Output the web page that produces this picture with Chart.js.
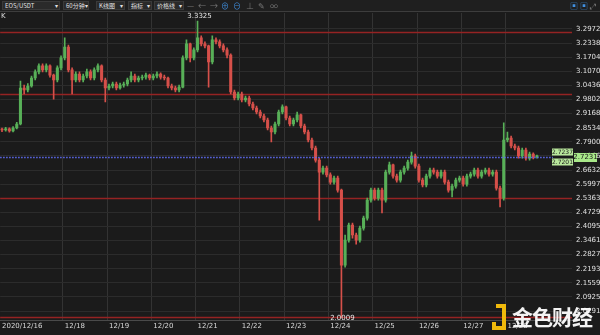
<!DOCTYPE html>
<html lang="zh">
<head>
<meta charset="UTF-8">
<title>EOS/USDT 60分钟</title>
<script src="https://cdn.jsdelivr.net/npm/chart.js@4.4.0/dist/chart.umd.min.js"></script>
<style>
    body { margin: 0; background: #1b1b1b; width: 600px; height: 335px; overflow: hidden; position: relative;
           font-family: "Noto Sans CJK SC", "Noto Sans", sans-serif; }
    #kline { position: absolute; left: 0; top: 0; }
    #bar { position: absolute; left: 0; top: 0; width: 600px; height: 11px; background: #1f1f1f; border-bottom: 1px solid #3d3d3d; }
    .dd { position: absolute; top: 1px; height: 9px; background: #2a2a2a; border: 1px solid #3a3a3a; color: #e0e0e0;
          font-size: 6px; line-height: 8px; padding: 0 1px 0 2px; box-sizing: border-box; display: flex;
          justify-content: space-between; white-space: nowrap; overflow: hidden; }
    .ic { position: absolute; top: 1px; font-size: 8px; line-height: 9px; color: #777; }
    .blue { color: #3f8fe0; }
    #k { position: absolute; left: 1px; top: 12px; color: #ddd; font-size: 7px; font-family: "DejaVu Sans", sans-serif; }
    #wm { position: absolute; left: 490px; top: 300px; width: 110px; height: 35px; }
    #wm .logo { position: absolute; left: 2px; top: 4px; width: 14px; height: 26px; }
    #wm .txt { position: absolute; left: 22px; top: 1px; color: #fff; font-size: 21px; font-weight: bold; letter-spacing: -1px; opacity: 0.95; }
</style>
</head>
<body>
<canvas id="kline" width="600" height="335"></canvas>
<div id="bar">
    <div class="dd" style="left:2px;width:58px"><span>EOS/USDT</span><span>▾</span></div>
    <div class="dd" style="left:63px;width:26px"><span>60分钟</span><span>▾</span></div>
    <div class="dd" style="left:96px;width:29px"><span>K线图</span><span>▾</span></div>
    <div class="dd" style="left:128px;width:24px"><span>指标</span><span>▾</span></div>
    <div class="dd" style="left:154px;width:30px"><span>价格线</span><span>▾</span></div>
    <span class="ic" style="left:187px">—</span>
    <span class="ic" style="left:198px">←</span>
    <span class="ic" style="left:210px">→</span>
    <span class="ic blue" style="left:221px">⊕</span>
    <span class="ic blue" style="left:233px">⊖</span>
    <span class="ic" style="left:246px">⊥</span>
    <span class="ic" style="left:258px">✎</span>
    <span class="ic" style="left:270px">∞</span>
    <span class="ic blue" style="left:570px">▣</span>
    <span class="ic blue" style="left:580px">▣</span>
    <span class="ic" style="left:590px">⤢</span>
</div>
<div id="k">K</div>
<div id="wm">
    <svg class="logo" viewBox="0 0 14 26"><path d="M0 18h4v4h6V4H4V0h10v26H0z" fill="#f0b90b"/></svg>
    <div class="txt">金色财经</div>
</div>
<script>
    // 2 hour candles, starting 2020/12/16 14:00
    var opens = [2.846,2.843,2.848,2.839,2.852,2.870,3.032,3.023,3.041,3.077,
        3.104,3.131,3.113,3.131,3.090,3.068,3.122,3.167,3.216,3.113,
        3.068,3.095,3.068,3.086,3.104,3.077,3.113,3.131,3.068,3.032,
        3.041,3.050,3.032,3.045,3.050,3.068,3.086,3.068,3.077,3.081,
        3.090,3.077,3.086,3.095,3.081,3.077,3.041,3.032,3.023,3.036,
        3.167,3.230,3.167,3.203,3.257,3.230,3.221,3.149,3.248,3.239,
        3.221,3.203,3.180,3.014,2.987,3.005,2.978,2.987,2.960,2.942,
        2.924,2.906,2.888,2.852,2.834,2.870,2.924,2.947,2.897,2.870,
        2.888,2.911,2.861,2.834,2.798,2.762,2.708,2.654,2.672,2.641,
        2.609,2.627,2.573,2.236,2.348,2.416,2.371,2.348,2.402,2.447,
        2.528,2.573,2.537,2.573,2.528,2.654,2.686,2.636,2.618,2.654,
        2.672,2.699,2.726,2.681,2.618,2.596,2.636,2.663,2.654,2.636,
        2.654,2.609,2.573,2.591,2.618,2.627,2.600,2.636,2.645,2.663,
        2.636,2.654,2.663,2.645,2.654,2.582,2.537,2.798,2.807,2.771,
        2.762,2.726,2.753,2.717,2.735,2.722];
    var closes = [2.843,2.848,2.839,2.852,2.870,3.032,3.023,3.041,3.077,3.104,
        3.131,3.113,3.131,3.090,3.068,3.122,3.167,3.216,3.113,3.068,
        3.095,3.068,3.086,3.104,3.077,3.113,3.131,3.068,3.032,3.041,
        3.050,3.032,3.045,3.050,3.068,3.086,3.068,3.077,3.081,3.090,
        3.077,3.086,3.095,3.081,3.077,3.041,3.032,3.023,3.036,3.167,
        3.230,3.167,3.203,3.257,3.230,3.221,3.149,3.248,3.239,3.221,
        3.203,3.180,3.014,2.987,3.005,2.978,2.987,2.960,2.942,2.924,
        2.906,2.888,2.852,2.834,2.870,2.924,2.947,2.897,2.870,2.888,
        2.911,2.861,2.834,2.798,2.762,2.708,2.654,2.672,2.641,2.609,
        2.627,2.573,2.236,2.348,2.416,2.371,2.348,2.402,2.447,2.528,
        2.573,2.537,2.573,2.528,2.654,2.686,2.636,2.618,2.654,2.672,
        2.699,2.726,2.681,2.618,2.596,2.636,2.663,2.654,2.636,2.654,
        2.609,2.573,2.591,2.618,2.627,2.600,2.636,2.645,2.663,2.636,
        2.654,2.663,2.645,2.654,2.582,2.537,2.798,2.807,2.771,2.762,
        2.726,2.753,2.717,2.735,2.722,2.723];
    var highs = [2.852,2.855,2.853,2.858,2.878,3.063,3.045,3.052,3.086,3.113,
        3.140,3.140,3.140,3.136,3.095,3.131,3.176,3.257,3.225,3.122,
        3.104,3.104,3.095,3.117,3.113,3.122,3.140,3.136,3.077,3.050,
        3.059,3.059,3.054,3.059,3.077,3.104,3.095,3.086,3.090,3.099,
        3.095,3.095,3.104,3.100,3.090,3.081,3.050,3.041,3.045,3.176,
        3.248,3.234,3.212,3.3325,3.266,3.239,3.225,3.266,3.257,3.248,
        3.230,3.212,3.185,3.023,3.014,3.014,2.996,2.996,2.969,2.951,
        2.933,2.915,2.897,2.861,2.879,2.933,2.956,2.951,2.906,2.897,
        2.924,2.915,2.870,2.843,2.807,2.771,2.717,2.681,2.681,2.650,
        2.636,2.636,2.578,2.371,2.425,2.425,2.380,2.411,2.456,2.537,
        2.582,2.582,2.582,2.582,2.663,2.699,2.690,2.645,2.663,2.681,
        2.708,2.744,2.735,2.690,2.627,2.645,2.672,2.672,2.663,2.663,
        2.663,2.618,2.600,2.627,2.636,2.636,2.645,2.654,2.672,2.672,
        2.663,2.672,2.672,2.663,2.663,2.591,2.875,2.834,2.816,2.780,
        2.771,2.762,2.762,2.744,2.740,2.730];
    var lows = [2.836,2.838,2.833,2.835,2.848,2.866,3.005,3.014,3.036,3.068,
        3.095,3.104,3.104,3.081,2.982,3.059,3.113,3.158,3.104,3.005,
        3.059,3.059,3.059,3.077,3.068,3.068,3.104,3.059,2.969,3.023,
        3.032,3.023,3.027,3.036,3.041,3.059,3.059,3.059,3.068,3.072,
        3.068,3.068,3.077,3.072,3.068,3.032,3.023,3.014,3.014,3.032,
        3.158,3.149,3.158,3.194,3.221,3.212,3.036,3.140,3.230,3.212,
        3.194,3.167,3.005,2.978,2.978,2.969,2.969,2.951,2.933,2.915,
        2.897,2.879,2.843,2.789,2.825,2.861,2.915,2.888,2.861,2.861,
        2.879,2.852,2.825,2.789,2.753,2.699,2.438,2.645,2.632,2.600,
        2.600,2.564,2.0009,2.227,2.339,2.357,2.330,2.339,2.393,2.438,
        2.519,2.528,2.528,2.470,2.519,2.645,2.627,2.609,2.609,2.645,
        2.663,2.690,2.672,2.609,2.587,2.587,2.627,2.645,2.627,2.627,
        2.600,2.564,2.542,2.582,2.609,2.591,2.591,2.627,2.636,2.627,
        2.627,2.645,2.636,2.636,2.573,2.497,2.528,2.789,2.762,2.753,
        2.717,2.717,2.708,2.708,2.713,2.716];

    var yTicks = [3.2972,3.2338,3.1704,3.1070,3.0436,2.9802,2.9168,2.8534,2.7900,2.7266,
        2.6632,2.5997,2.5363,2.4729,2.4095,2.3461,2.2827,2.2193,2.1559,2.0925,2.0291];
    var xTickIdx = [0,17,29,41,53,65,77,89,101,113,125,137];
    var xTickText = ['2020/12/16','12/18','12/19','12/20','12/21','12/22','12/23','12/24','12/25','12/26','12/27','12/28'];
    var levels = [3.284, 3.005, 2.537, 2.002];   // red lines
    var lastPrice = 2.7231;
    var askPrice = 2.7237;
    var bidPrice = 2.7201;
    var highMark = 3.3325;
    var lowMark = 2.0009;

    var startTime = Date.UTC(2020, 11, 16, 14);
    var nSlots = 155;   // empty slots on the right
    var cats = [];
    for (var i = 0; i < nSlots; i++) {
        var d = new Date(startTime + i * 2 * 3600000);
        cats.push((d.getUTCMonth() + 1) + '/' + d.getUTCDate() + ' ' + d.getUTCHours() + ':00');
    }

    var upCol = '#58b058';
    var downCol = '#d6504a';
    var cols = closes.map(function (c, i) { return c >= opens[i] ? upCol : downCol; });

    var extras = {
        id: 'extras',
        beforeDatasetsDraw: function (chart) {
            var c = chart.ctx, a = chart.chartArea, y = chart.scales.y;
            c.save();
            c.strokeStyle = '#952323';
            c.lineWidth = 1.5;
            levels.forEach(function (v) {
                var py = Math.round(y.getPixelForValue(v)) + 0.5;
                c.beginPath(); c.moveTo(a.left, py); c.lineTo(a.right, py); c.stroke();
            });
            c.restore();
        },
        afterDatasetsDraw: function (chart) {
            var c = chart.ctx, a = chart.chartArea, x = chart.scales.x, y = chart.scales.y;
            c.save();
            var py = Math.round(y.getPixelForValue(lastPrice)) + 0.5;
            c.strokeStyle = '#5e6cf2';
            c.lineWidth = 1.5;
            c.setLineDash([1.5, 1.5]);
            c.beginPath(); c.moveTo(a.left, py); c.lineTo(553, py); c.stroke();
            c.setLineDash([]);

            c.font = '6px "DejaVu Sans", sans-serif';
            c.textBaseline = 'middle';
            c.textAlign = 'center';
            // bid / ask boxes
            c.fillStyle = '#b9e89c';
            c.fillRect(552, py - 9, 21, 7);
            c.fillRect(552, py + 1, 21, 7);
            c.fillStyle = '#1a1a1a';
            c.fillText(askPrice.toFixed(4), 562.5, py - 5.5);
            c.fillText(bidPrice.toFixed(4), 562.5, py + 4.5);
            // last price on axis
            c.fillStyle = '#a8e889';
            c.fillRect(574, py - 4.5, 23, 9);
            c.fillStyle = '#1a1a1a';
            c.font = '7px "DejaVu Sans", sans-serif';
            c.fillText(lastPrice.toFixed(4), 585.5, py);

            // high / low marks
            c.fillStyle = '#e8e8e8';
            c.fillText(highMark.toFixed(4), x.getPixelForValue(53) + 2, y.getPixelForValue(highMark) - 5);
            c.fillText(lowMark.toFixed(4), x.getPixelForValue(92) + 1, y.getPixelForValue(lowMark) + 1);
            c.restore();
        }
    };

    var chart = new Chart(document.getElementById('kline'), {
        type: 'bar',
        data: {
            labels: cats,
            datasets: [{
                label: 'wick',
                data: lows.map(function (l, i) { return [l, highs[i]]; }),
                backgroundColor: cols,
                barThickness: 1,
                grouped: false
            }, {
                label: 'body',
                data: opens.map(function (o, i) { return [o, closes[i]]; }),
                backgroundColor: cols,
                barThickness: 2.4,
                minBarLength: 1,
                grouped: false
            }]
        },
        options: {
            responsive: false,
            animation: false,
            layout: { padding: { top: 13, left: 0, right: 0, bottom: 0 } },
            plugins: { legend: { display: false }, tooltip: { enabled: false } },
            scales: {
                x: {
                    grid: {
                        offset: true,
                        drawTicks: false,
                        color: function (ctx) {
                            return (ctx.index > 0 && xTickIdx.indexOf(ctx.index) >= 0) ? '#333333' : 'rgba(0,0,0,0)';
                        }
                    },
                    border: { color: '#4a4a4a' },
                    ticks: {
                        autoSkip: false, maxRotation: 0, minRotation: 0, align: 'start', padding: 2,
                        color: '#d8d8d8', font: { size: 7, family: '"DejaVu Sans", sans-serif' },
                        callback: function (v, i) {
                            var k = xTickIdx.indexOf(i);
                            return k >= 0 ? xTickText[k] : '';
                        }
                    },
                    afterFit: function (s) { s.height = 15; }
                },
                y: {
                    position: 'right',
                    min: 1.989,
                    max: 3.369,
                    grid: { color: '#2c2c2c', drawTicks: false },
                    border: { display: false },
                    ticks: {
                        padding: 4, color: '#e0e0e0', font: { size: 7, family: '"DejaVu Sans", sans-serif' },
                        callback: function (v) { return v.toFixed(4); }
                    },
                    afterBuildTicks: function (s) { s.ticks = yTicks.map(function (v) { return { value: v }; }); },
                    afterFit: function (s) { s.width = 28; }
                }
            }
        },
        plugins: [extras]
    });
</script>
</body>
</html>
